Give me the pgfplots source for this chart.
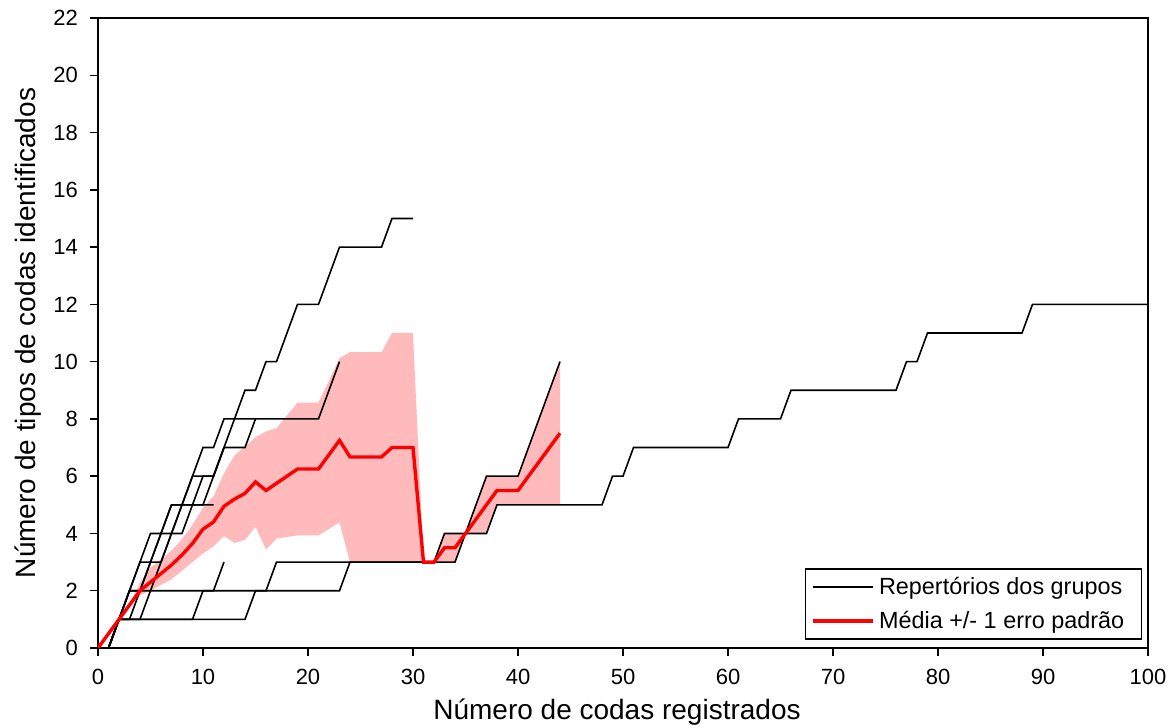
\documentclass[border=0pt]{standalone}
\usepackage{fontspec}
\setmainfont{Liberation Sans}
\usepackage{pgfplots}
\pgfplotsset{compat=1.18}
\usepgfplotslibrary{fillbetween}
\definecolor{bandpink}{RGB}{255,187,187}
\begin{document}
\begin{tikzpicture}
\begin{axis}[
  at={(0,0)}, anchor=south west,
  width=525pt, height=315pt, scale only axis,
  xmin=0, xmax=100, ymin=0, ymax=22,
  xtick={0,10,...,100}, ytick={0,2,...,22},
  tick pos=left, tick align=outside, major tick length=4pt,
  axis line style={line width=0.75pt},
  every tick/.style={line width=0.75pt, black},
  /pgf/number format/assume math mode=true,
  tick label style={font=\fontsize{11}{13}\selectfont},
  xticklabel style={yshift=-3pt},
  yticklabel style={xshift=-2.5pt},
  label style={font=\fontsize{14}{16}\selectfont},
  xlabel={Número de codas registrados},
  ylabel={Número de tipos de codas identificados},
  xlabel style={at={(axis description cs:0.4943,-0.1016)}, anchor=center},
  ylabel style={at={(axis description cs:-0.0667,0.5)}, anchor=center},
  legend style={at={(1,0)}, anchor=south east, xshift=-3pt, yshift=4pt,
    draw=black, line width=0.75pt, inner xsep=3pt, inner ysep=2pt,
    font=\fontsize{11.7}{13}\selectfont, row sep=3pt},
  legend cell align=left,
  legend image code/.code={\draw[#1] (0pt,0pt) -- (30pt,0pt);},
]
% standard-error band around the mean
\addplot[name path=upper, draw=none, forget plot] coordinates {
 (0,0) (2,1) (3,1.5) (4,2.3) (5,2.8) (6,3.1) (7,3.4) (8,3.8) (9,4.3) (10,4.9)
 (11,5.3) (12,6.1) (13,6.73) (14,7.03) (15,7.36) (16,7.56) (17,7.68) (18,8.12)
 (19,8.57) (20,8.57) (21,8.57) (22,9.34) (23,10.12) (24,10.33) (25,10.33)
 (26,10.33) (27,10.33) (28,11) (29,11) (30,11) (31,3) (32,3) (33,4) (34,4)
 (35,4) (36,5) (37,6) (38,6) (39,6) (40,6) (41,7) (42,8) (43,9) (44,10)};
\addplot[name path=lower, draw=none, forget plot] coordinates {
 (0,0) (2,1) (3,1.5) (4,1.85) (5,2.0) (6,2.2) (7,2.4) (8,2.7) (9,3.0) (10,3.3)
 (11,3.55) (12,3.91) (13,3.67) (14,3.77) (15,4.24) (16,3.44) (17,3.82) (18,3.88)
 (19,3.93) (20,3.93) (21,3.93) (22,4.16) (23,4.38) (24,3) (25,3) (26,3)
 (27,3) (28,3) (29,3) (30,3) (31,3) (32,3) (33,3) (34,3)
 (35,4) (36,4) (37,4) (38,5) (39,5) (40,5) (41,5) (42,5) (43,5) (44,5)};
\addplot[bandpink, forget plot] fill between[of=upper and lower];
% cumulative repertoire of each group
\addplot[black, line width=0.8pt] coordinates {
 (1,0) (2,1) (14,1) (15,2) (23,2) (24,3) (32,3) (33,4) (37,4) (38,5) (48,5)
 (49,6) (50,6) (51,7) (60,7) (61,8) (65,8) (66,9) (76,9) (77,10) (78,10)
 (79,11) (88,11) (89,12) (100,12)};
\addlegendentry{Repertórios dos grupos}
\addplot[black, line width=0.8pt, forget plot] coordinates {
 (1,0) (2,1) (3,2) (16,2) (17,3) (34,3) (35,4) (36,5) (37,6) (40,6) (41,7)
 (42,8) (43,9) (44,10)};
\addplot[black, line width=0.8pt, forget plot] coordinates {
 (1,0) (2,1) (3,2) (4,3) (5,3) (6,4) (7,5) (9,5) (10,6) (11,6) (12,7) (13,8)
 (14,9) (15,9) (16,10) (17,10) (18,11) (19,12) (21,12) (22,13) (23,14) (27,14)
 (28,15) (30,15)};
\addplot[black, line width=0.8pt, forget plot] coordinates {
 (1,0) (2,1) (3,2) (4,3) (5,4) (6,4) (7,5) (8,5) (9,6) (10,7) (11,7) (12,8)
 (21,8) (22,9) (23,10)};
\addplot[black, line width=0.8pt, forget plot] coordinates {
 (1,0) (2,1) (3,1) (4,2) (5,3) (6,4) (8,4) (9,5) (10,5) (11,6) (12,7) (14,7)
 (15,8)};
\addplot[black, line width=0.8pt, forget plot] coordinates {
 (1,0) (2,1) (3,2) (4,2) (5,3) (6,3) (7,4) (8,5) (9,6) (11,6) (12,7)};
\addplot[black, line width=0.8pt, forget plot] coordinates {
 (1,0) (2,1) (4,1) (5,2) (6,3) (7,4) (8,5) (11,5)};
\addplot[black, line width=0.8pt, forget plot] coordinates {
 (1,0) (2,1) (9,1) (10,2) (11,2) (12,3)};
% mean across groups
\addplot[red, line width=1.7pt] coordinates {
 (0,0) (2,1) (4,2) (5,2.3) (6,2.6) (7,2.9) (8,3.25) (9,3.65) (10,4.15) (11,4.4)
 (12,4.95) (13,5.2) (14,5.4) (15,5.8) (16,5.5) (17,5.75) (18,6) (19,6.25)
 (20,6.25) (21,6.25) (22,6.75) (23,7.25) (24,6.67) (25,6.67) (26,6.67)
 (27,6.67) (28,7) (29,7) (30,7) (31,3) (32,3) (33,3.5) (34,3.5) (35,4)
 (36,4.5) (37,5) (38,5.5) (39,5.5) (40,5.5) (41,6) (42,6.5) (43,7) (44,7.5)};
\addlegendentry{Média +/- 1 erro padrão\hspace*{3.5pt}}
\end{axis}
\pgfresetboundingbox
\path[use as bounding box] (-49pt,-40pt) rectangle (537.5pt,324pt);
\end{tikzpicture}
\end{document}
